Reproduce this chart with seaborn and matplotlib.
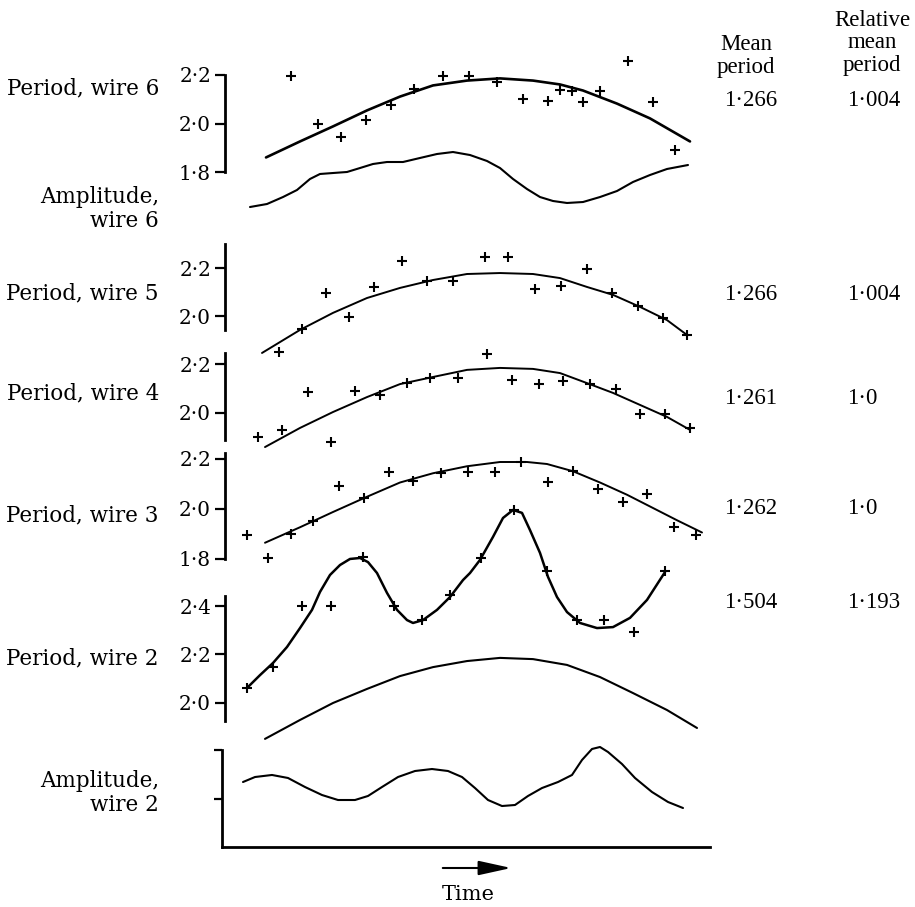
import matplotlib.pyplot as plt
import seaborn as sns
from matplotlib.patches import FancyArrowPatch

W, H = 915, 907

sns.set_theme(style='white')
plt.rcParams['font.family'] = ['DejaVu Serif']
plt.rcParams['text.color'] = 'black'

# time in arbitrary units, same scale for every trace
# ---- wire 6 ----
w6_t = [7.1, 9.8, 12.1, 14.6, 17.1, 19.4, 22.3, 24.9, 27.7, 30.3, 32.8, 34.0, 35.2, 36.3, 38.0, 40.8, 43.3, 45.5]
w6_p = [2.194, 2.0, 1.946, 2.016, 2.078, 2.144, 2.194, 2.194, 2.173, 2.103, 2.091, 2.140, 2.136, 2.087, 2.136, 2.256, 2.087, 1.889]
w6_fit_t = [4.6, 8.0, 11.3, 14.7, 18.0, 21.3, 24.7, 28.0, 31.3, 34.0, 36.3, 39.7, 43.0, 47.0]
w6_fit_p = [1.860, 1.926, 1.988, 2.054, 2.111, 2.157, 2.177, 2.186, 2.177, 2.161, 2.136, 2.082, 2.021, 1.926]
w6_amp_t = [3.0, 4.7, 6.3, 7.7, 9.0, 10.0, 11.3, 12.7, 14.0, 15.3, 16.7, 18.3, 20.0, 21.7, 23.3,
            25.0, 26.7, 28.0, 29.3, 30.7, 32.0, 33.3, 34.7, 36.3, 38.0, 39.7, 41.3, 43.0, 44.7, 46.8]
w6_amp = [0.474, 0.536, 0.680, 0.825, 1.052, 1.155, 1.175, 1.196, 1.278, 1.361, 1.402, 1.402, 1.485, 1.567, 1.608,
          1.546, 1.423, 1.278, 1.052, 0.845, 0.680, 0.598, 0.557, 0.577, 0.680, 0.804, 0.990, 1.134, 1.258, 1.340]

# ---- wire 5 ----
w5_t = [5.9, 8.2, 10.6, 12.9, 15.4, 18.2, 20.7, 23.3, 26.5, 28.8, 31.5, 34.1, 36.7, 39.2, 41.8, 44.3, 46.7]
w5_p = [1.850, 1.946, 2.096, 1.996, 2.121, 2.229, 2.146, 2.146, 2.246, 2.246, 2.113, 2.125, 2.196, 2.096, 2.042, 1.992, 1.921]
w5_fit_t = [4.2, 8.0, 11.3, 14.7, 18.0, 21.3, 24.7, 28.0, 31.3, 34.0, 36.7, 39.3, 42.0, 44.7, 46.7]
w5_fit_p = [1.846, 1.942, 2.013, 2.075, 2.117, 2.150, 2.175, 2.179, 2.175, 2.158, 2.121, 2.088, 2.038, 1.983, 1.921]

# ---- wire 4 ----
w4_t = [3.8, 6.2, 8.8, 11.1, 13.5, 16.0, 18.7, 21.0, 23.8, 26.7, 29.2, 31.9, 34.3, 37.0, 39.6, 42.0, 44.5, 47.0]
w4_p = [1.902, 1.931, 2.086, 1.882, 2.090, 2.073, 2.122, 2.143, 2.143, 2.241, 2.135, 2.118, 2.131, 2.118, 2.098, 1.996, 1.996, 1.939]
w4_fit_t = [4.5, 8.0, 11.3, 14.7, 18.0, 21.3, 24.7, 28.0, 31.3, 34.0, 36.7, 39.3, 42.0, 44.7, 47.0]
w4_fit_p = [1.861, 1.939, 2.004, 2.065, 2.118, 2.147, 2.176, 2.184, 2.180, 2.163, 2.122, 2.082, 2.033, 1.984, 1.931]

# ---- wire 3 ----
w3_t = [2.7, 4.8, 7.1, 9.3, 11.9, 14.4, 16.9, 19.3, 22.1, 24.8, 27.5, 30.1, 32.8, 35.3, 37.8, 40.3, 42.7, 45.4, 47.6]
w3_p = [1.898, 1.804, 1.902, 1.951, 2.094, 2.045, 2.147, 2.114, 2.143, 2.147, 2.147, 2.188, 2.110, 2.151, 2.082, 2.029, 2.061, 1.927, 1.898]
w3_fit_t = [4.5, 8.0, 11.3, 14.7, 18.0, 21.3, 24.7, 28.0, 30.7, 32.7, 35.3, 38.0, 40.7, 43.3, 45.7, 48.2]
w3_fit_p = [1.865, 1.927, 1.988, 2.049, 2.106, 2.143, 2.171, 2.188, 2.188, 2.180, 2.151, 2.106, 2.057, 2.004, 1.955, 1.906]

# ---- wire 2 ----
w2_t = [2.7, 5.3, 8.2, 11.1, 14.3, 17.4, 20.2, 23.0, 26.1, 29.4, 32.7, 35.7, 38.4, 41.4, 44.5]
w2_p = [2.062, 2.148, 2.400, 2.400, 2.602, 2.400, 2.342, 2.445, 2.598, 2.796, 2.544, 2.342, 2.342, 2.293, 2.544]
w2_curve_t = [2.8, 4.0, 5.3, 6.7, 8.0, 9.2, 10.0, 11.0, 12.0, 13.0, 14.0, 14.8, 15.7, 16.7, 17.7, 18.7, 19.3,
              20.3, 21.7, 23.0, 24.3, 25.0, 26.0, 27.3, 28.3, 29.3, 30.2, 31.0, 32.0, 32.8, 33.7, 34.7,
              36.0, 37.7, 39.3, 41.0, 42.7, 44.5]
w2_curve_p = [2.066, 2.115, 2.165, 2.231, 2.309, 2.384, 2.458, 2.528, 2.569, 2.594, 2.598, 2.581, 2.536, 2.454, 2.384, 2.342, 2.330,
              2.342, 2.384, 2.437, 2.507, 2.536, 2.590, 2.685, 2.763, 2.796, 2.784, 2.713, 2.619, 2.520, 2.437, 2.375,
              2.330, 2.309, 2.313, 2.351, 2.425, 2.540]
w2_fit_t = [4.5, 8.0, 11.3, 14.7, 18.0, 21.3, 24.7, 28.0, 31.3, 34.7, 38.0, 41.3, 44.7, 47.7]
w2_fit_p = [1.852, 1.930, 2.000, 2.058, 2.111, 2.148, 2.173, 2.186, 2.181, 2.157, 2.107, 2.041, 1.971, 1.897]
w2_amp_t = [2.3, 3.5, 5.2, 6.8, 8.5, 10.2, 11.8, 13.5, 14.8, 16.2, 17.8, 19.5, 21.2, 22.8, 24.2, 25.5,
            26.8, 28.2, 29.5, 30.8, 32.2, 33.8, 35.2, 36.2, 37.2, 38.0, 38.8, 40.2, 41.5, 43.2, 44.8, 46.3]
w2_amp = [1.340, 1.443, 1.485, 1.423, 1.237, 1.072, 0.969, 0.969, 1.052, 1.237, 1.443, 1.567, 1.608, 1.567, 1.443, 1.216,
          0.969, 0.845, 0.866, 1.052, 1.216, 1.340, 1.485, 1.794, 2.021, 2.062, 1.959, 1.711, 1.423, 1.134, 0.928, 0.804]

row_labels = ['Period, wire 6', 'Amplitude,\nwire 6', 'Period, wire 5', 'Period, wire 4',
              'Period, wire 3', 'Period, wire 2', 'Amplitude,\nwire 2']
mean_period = ['1·266', '1·266', '1·261', '1·262', '1·504']
rel_mean_period = ['1·004', '1·004', '1·0', '1·0', '1·193']

fig = plt.figure(figsize=(W / 100, H / 100), dpi=100)
fig.patch.set_facecolor('white')


def fx(x):
    return x / W


def fy(y):
    return 1 - y / H


def panel(v1, y1, v2, y2, lo, hi):
    # v1 sits at pixel row y1, v2 at y2; axes spans lo..hi
    k = (y2 - y1) / (v1 - v2)
    top = y1 - (hi - v1) * k
    bot = y1 + (v1 - lo) * k
    ax = fig.add_axes([fx(220), fy(bot), 490 / W, (bot - top) / H])
    ax.set_xlim(0, 49)
    ax.set_ylim(lo, hi)
    ax.patch.set_alpha(0)
    for s in ax.spines.values():
        s.set_visible(False)
    ax.set_xticks([])
    ax.set_yticks([])
    ax.grid(False)
    return ax


def period_axis(ax, ticks, labels, lo, hi):
    sp = ax.spines['left']
    sp.set_visible(True)
    sp.set_bounds(lo, hi)
    sp.set_position(('data', 0.5))
    sp.set_linewidth(2.0)
    sp.set_color('black')
    ax.set_yticks(ticks, labels=labels)
    ax.tick_params(axis='y', left=True, direction='out', length=7, width=1.6,
                   labelsize=14.5, pad=3, colors='black')


def draw(ax, t, v, lw=1.4):
    sns.lineplot(x=t, y=v, ax=ax, color='black', lw=lw, estimator=None, sort=False)


def pts(ax, t, v):
    sns.scatterplot(x=t, y=v, ax=ax, marker='+', s=60, color='black', linewidth=1.5, zorder=3)


# wire 6
ax6 = panel(2.2, 75, 1.8, 172, 1.75, 2.32)
period_axis(ax6, [1.8, 2.0, 2.2], ['1·8', '2·0', '2·2'], 1.8, 2.2)
draw(ax6, w6_fit_t, w6_fit_p, lw=1.9)
pts(ax6, w6_t, w6_p)

axa6 = panel(2.0, 133, 0.0, 230, 0.0, 2.0)
draw(axa6, w6_amp_t, w6_amp, lw=1.5)

# wire 5
ax5 = panel(2.2, 268, 2.0, 316, 1.80, 2.32)
period_axis(ax5, [2.0, 2.2], ['2·0', '2·2'], 1.942, 2.30)
draw(ax5, w5_fit_t, w5_fit_p)
pts(ax5, w5_t, w5_p)

# wire 4
ax4 = panel(2.2, 364, 2.0, 413, 1.80, 2.30)
period_axis(ax4, [2.0, 2.2], ['2·0', '2·2'], 1.89, 2.245)
draw(ax4, w4_fit_t, w4_fit_p)
pts(ax4, w4_t, w4_p)

# wire 3
ax3 = panel(2.2, 459, 2.0, 509, 1.75, 2.25)
period_axis(ax3, [1.8, 2.0, 2.2], ['1·8', '2·0', '2·2'], 1.8, 2.224)
draw(ax3, w3_fit_t, w3_fit_p)
pts(ax3, w3_t, w3_p)

# wire 2
ax2 = panel(2.4, 606, 2.0, 703, 1.80, 2.85)
period_axis(ax2, [2.0, 2.2, 2.4], ['2·0', '2·2', '2·4'], 1.926, 2.44)
draw(ax2, w2_curve_t, w2_curve_p, lw=1.8)
draw(ax2, w2_fit_t, w2_fit_p, lw=1.5)
pts(ax2, w2_t, w2_p)

axa2 = panel(2.0, 750, 0.0, 847, 0.0, 2.1)
for side in ['left', 'bottom']:
    sp = axa2.spines[side]
    sp.set_visible(True)
    sp.set_linewidth(2.0)
    sp.set_color('black')
axa2.spines['left'].set_bounds(0, 2.0)
axa2.spines['left'].set_position(('data', 0.2))
axa2.spines['bottom'].set_bounds(0.2, 49)
axa2.set_yticks([1.0, 2.0], labels=['', ''])
axa2.tick_params(axis='y', left=True, direction='out', length=6, width=1.6, colors='black')
draw(axa2, w2_amp_t, w2_amp, lw=1.5)

# row labels on the left
label_y = [88, 209, 293, 393, 515, 658, 793]
for lab, y in zip(row_labels, label_y):
    fig.text(fx(159), fy(y), lab, ha='right', va='center', fontsize=15.5,
             multialignment='right', linespacing=1.15, color='black')

# table on the right
rfont = ['Liberation Serif', 'DejaVu Serif']
fig.text(fx(746), fy(56), 'Mean\nperiod', ha='center', va='center', fontsize=16.5,
         family=rfont, linespacing=1.1, color='black')
fig.text(fx(872), fy(43), 'Relative\nmean\nperiod', ha='center', va='center', fontsize=16.5,
         family=rfont, linespacing=1.1, color='black')
value_y = [100, 295, 398, 508, 602]
for m, r, y in zip(mean_period, rel_mean_period, value_y):
    fig.text(fx(724), fy(y), m, ha='left', va='center', fontsize=16.5, family=rfont, color='black')
    fig.text(fx(847), fy(y), r, ha='left', va='center', fontsize=16.5, family=rfont, color='black')

# time arrow
fig.add_artist(FancyArrowPatch((fx(440), fy(868)), (fx(514), fy(868)), transform=fig.transFigure,
                               arrowstyle='-|>,head_length=1.0,head_width=0.22', mutation_scale=20,
                               lw=1.5, color='black'))
fig.text(fx(468), fy(895), 'Time', ha='center', va='center', fontsize=15, color='black')

fig.savefig('out.png', dpi=100, facecolor='white')
